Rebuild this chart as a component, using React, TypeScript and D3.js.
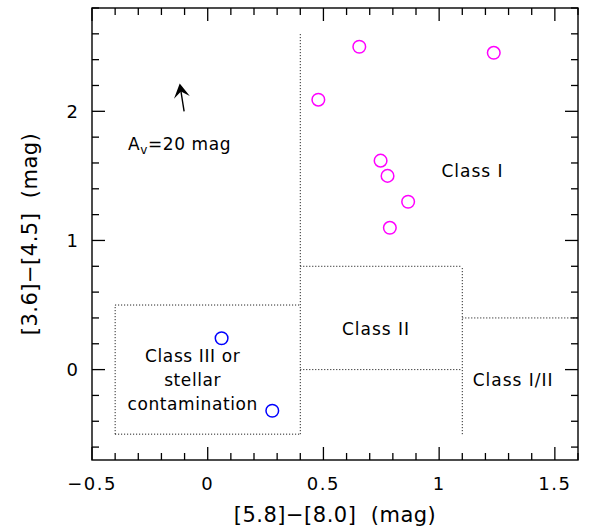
import React from "react";
import * as d3 from "d3";

const classIX = [0.655, 1.236, 0.478, 0.747, 0.777, 0.866, 0.787];
const classIY = [2.5, 2.453, 2.09, 1.618, 1.5, 1.3, 1.098];
const classIIIX = [0.06, 0.279];
const classIIIY = [0.243, -0.319];

const xMajor = [-0.5, 0, 0.5, 1, 1.5];
const xMajorLabels = ["\u22120.5", "0", "0.5", "1", "1.5"];
const yMajor = [0, 1, 2];
const yMajorLabels = ["0", "1", "2"];

// dotted region boundaries: [x1, y1, x2, y2]
const boundaries: [number, number, number, number][] = [
  [-0.4, -0.5, 0.4, -0.5],
  [-0.4, 0.5, 0.4, 0.5],
  [-0.4, -0.5, -0.4, 0.5],
  [0.4, -0.5, 0.4, 2.6],
  [0.4, 0.8, 1.1, 0.8],
  [0.4, 0.0, 1.1, 0.0],
  [1.1, -0.5, 1.1, 0.8],
  [1.1, 0.4, 1.6, 0.4],
];

const regionLabels = [
  { text: "Class I", x: 1.01, y: 1.49 },
  { text: "Class II", x: 0.58, y: 0.27 },
  { text: "Class I/II", x: 1.145, y: -0.13 },
];
const class3Lines = ["Class III or", "stellar", "contamination"];
const class3Pos = { x: -0.065, y: 0.06 };

const arrowFrom = [-0.102, 2.0];
const arrowTo = [-0.121, 2.215];

const W = 593;
const H = 529;
const M = { left: 92, right: 15, top: 8, bottom: 69 };

export default function App() {
  const x = d3.scaleLinear().domain([-0.5, 1.6]).range([M.left, W - M.right]);
  const y = d3.scaleLinear().domain([-0.7, 2.8]).range([H - M.bottom, M.top]);
  const [x0, x1] = x.range();
  const [y0, y1] = y.range();

  const xMinor = d3.range(-5, 17).map((d) => d / 10).filter((d) => !xMajor.some((m) => Math.abs(m - d) < 1e-6));
  const yMinor = d3.range(-3, 15).map((d) => d / 5).filter((d) => !yMajor.some((m) => Math.abs(m - d) < 1e-6));

  const font = "'DejaVu Sans ExtraLight', 'DejaVu Sans', sans-serif";
  const ax = x(arrowFrom[0]), ay = y(arrowFrom[1]);
  const bx = x(arrowTo[0]), by = y(arrowTo[1]);
  const ang = Math.atan2(by - ay, bx - ax);
  const head = (len: number, wid: number, notch: number) => {
    const c = Math.cos(ang), s = Math.sin(ang);
    const p = (u: number, v: number) => [bx + u * c - v * s, by + u * s + v * c];
    const pts = [p(0, 0), p(-len, wid / 2), p(-len + notch, 0), p(-len, -wid / 2)];
    return "M" + pts.map((q) => q.join(",")).join("L") + "Z";
  };

  return (
    <svg width={W} height={H} style={{ position: "absolute", left: 0, top: 0, background: "#fff" }}>
      {boundaries.map((b, i) => (
        <line key={"b" + i} x1={x(b[0])} y1={y(b[1])} x2={x(b[2])} y2={y(b[3])}
          stroke="#000" strokeWidth={1} strokeDasharray="1,2" />
      ))}
      <rect x={x0} y={y1} width={x1 - x0} height={y0 - y1} fill="none" stroke="#000" strokeWidth={1.4} />
      {xMajor.map((d) => (
        <g key={"xm" + d}>
          <line x1={x(d)} x2={x(d)} y1={y0} y2={y0 - 13} stroke="#000" strokeWidth={1.3} />
          <line x1={x(d)} x2={x(d)} y1={y1} y2={y1 + 13} stroke="#000" strokeWidth={1.3} />
        </g>
      ))}
      {xMinor.map((d) => (
        <g key={"xn" + d}>
          <line x1={x(d)} x2={x(d)} y1={y0} y2={y0 - 7} stroke="#000" strokeWidth={1.3} />
          <line x1={x(d)} x2={x(d)} y1={y1} y2={y1 + 7} stroke="#000" strokeWidth={1.3} />
        </g>
      ))}
      {yMajor.map((d) => (
        <g key={"ym" + d}>
          <line x1={x0} x2={x0 + 13} y1={y(d)} y2={y(d)} stroke="#000" strokeWidth={1.3} />
          <line x1={x1} x2={x1 - 13} y1={y(d)} y2={y(d)} stroke="#000" strokeWidth={1.3} />
        </g>
      ))}
      {yMinor.map((d) => (
        <g key={"yn" + d}>
          <line x1={x0} x2={x0 + 7} y1={y(d)} y2={y(d)} stroke="#000" strokeWidth={1.3} />
          <line x1={x1} x2={x1 - 7} y1={y(d)} y2={y(d)} stroke="#000" strokeWidth={1.3} />
        </g>
      ))}
      {xMajor.map((d, i) => (
        <text key={"xl" + d} x={x(d)} y={y0 + 30} textAnchor="middle" fontFamily={font}
          fontSize={18} letterSpacing={1.5} fill="#000">{xMajorLabels[i]}</text>
      ))}
      {yMajor.map((d, i) => (
        <text key={"yl" + d} x={78} y={y(d) + 6.5} textAnchor="end" fontFamily={font}
          fontSize={18} fill="#000">{yMajorLabels[i]}</text>
      ))}
      <text x={(x0 + x1) / 2} y={522} textAnchor="middle" fontFamily={font} fontSize={21} letterSpacing={0.5} fill="#000">
        [5.8]{"\u2212"}[8.0]{"\u00a0"} (mag)
      </text>
      <text transform={`translate(37,${(y0 + y1) / 2}) rotate(-90)`} textAnchor="middle" fontFamily={font}
        fontSize={21} letterSpacing={0.5} fill="#000">
        [3.6]{"\u2212"}[4.5]{"\u00a0"} (mag)
      </text>
      {regionLabels.map((l) => (
        <text key={l.text} x={x(l.x)} y={y(l.y)} fontFamily={font} fontSize={17} letterSpacing={1} fill="#000">{l.text}</text>
      ))}
      {class3Lines.map((t, i) => (
        <text key={t} x={x(class3Pos.x)} y={y(class3Pos.y) + i * 24.3} textAnchor="middle" fontFamily={font}
          fontSize={17} letterSpacing={0.6} fill="#000">{t}</text>
      ))}
      <line x1={ax} y1={ay} x2={bx - 6 * Math.cos(ang)} y2={by - 6 * Math.sin(ang)} stroke="#000" strokeWidth={1.4} />
      <path d={head(14, 16, 6)} fill="#000" />
      <text x={128} y={150} fontFamily={font} fontSize={17} letterSpacing={0.6} fill="#000">
        A<tspan fontSize={12} dy={4}>v</tspan><tspan dy={-4}>=20 mag</tspan>
      </text>
      {classIX.map((d, i) => (
        <circle key={"m" + i} cx={x(d)} cy={y(classIY[i])} r={6.3} fill="none" stroke="#ff00ff" strokeWidth={1.5} />
      ))}
      {classIIIX.map((d, i) => (
        <circle key={"c" + i} cx={x(d)} cy={y(classIIIY[i])} r={6.3} fill="none" stroke="#0000ff" strokeWidth={1.5} />
      ))}
    </svg>
  );
}
